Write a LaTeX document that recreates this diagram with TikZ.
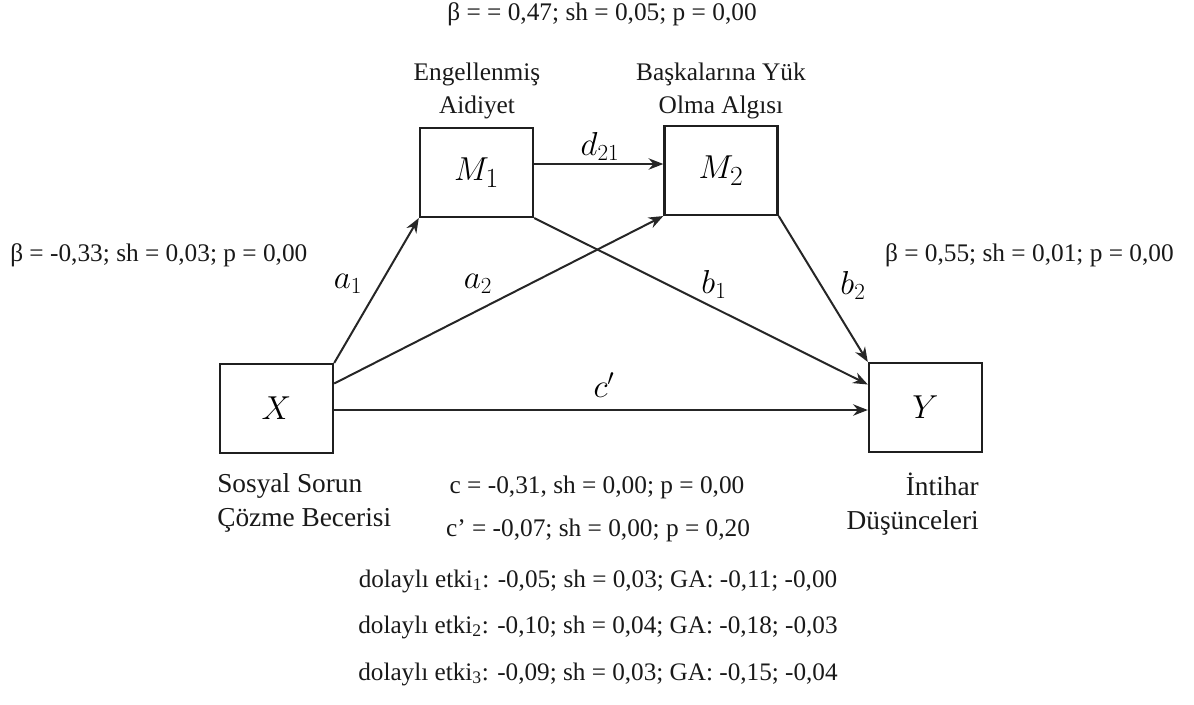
\documentclass[tikz,border=0pt]{standalone}
\usepackage{fontspec}
\setmainfont{Liberation Serif}
\usetikzlibrary{arrows.meta,calc}
\tikzset{
  box/.style={draw=black!88, line width=1.8pt, minimum width=84.75pt, minimum height=66.5pt, inner sep=0pt, font=\fontsize{28.5}{32}\selectfont},
  arr/.style={draw=black!85, line width=1.5pt, -{Stealth[length=11pt,width=8.5pt]}},
  lbl/.style={font=\fontsize{25}{30}\selectfont, inner sep=0pt},
  txt/.style={font=\fontsize{19}{25}\selectfont, inner sep=0pt, text=black!90, align=center},
  big/.style={font=\fontsize{20.5}{26}\selectfont, inner sep=0pt, text=black!90},
  small/.style={font=\fontsize{18.9}{22}\selectfont, inner sep=0pt, text=black!90}
}
\begin{document}
\begin{tikzpicture}[x=0.75pt,y=-0.75pt]
\useasboundingbox (0,0) rectangle (1194,704);
\node[box] (X) at (276.5,408.5) {$X$};
\node[box] (M1) at (476.5,172.5) {$M_1$};
\node[box] (M2) at (721,170.5) {$M_2$};
\node[box] (Y) at (925.5,407.5) {$Y$};

\coordinate (xs2) at ($(X.east)+(0,-25)$);
\coordinate (xs3) at ($(X.east)+(0,1.5)$);
\coordinate (ye3) at (xs3 -| Y.west);
\coordinate (ye1) at ($(Y.west)+(0,-23)$);
\coordinate (m1e) at ($(M1.east)+(0,-8.5)$);
\coordinate (m2w) at (m1e -| M2.west);

\draw[arr] (X.north east) -- (M1.south west);
\draw[arr] (xs2) -- (M2.south west);
\draw[arr] (xs3) -- (ye3);
\draw[arr] (M1.south east) -- (ye1);
\draw[arr] (M2.south east) -- (Y.north west);
\draw[arr] (m1e) -- (m2w);

\node[lbl] (la1) at (348,284) {$a_1$};
\node[lbl] (la2) at (478,284) {$a_2$};
\node[lbl] (ld) at (600,146) {$d_{21}$};
\node[lbl] (lb1) at (714,284) {$b_1$};
\node[lbl] (lb2) at (853,285) {$b_2$};
\node[lbl] (lc) at (604,385) {$c'$};

\node[txt] (t0) at (602,14) {β = = 0,47; sh = 0,05; p = 0,00};
\node[txt] (tm1) at (477,91) {Engellenmiş\\Aidiyet};
\node[txt] (tm2) at (721,91) {Başkalarına Yük\\Olma Algısı};
\node[txt, anchor=west] (ta) at (10,255) {β = -0,33; sh = 0,03; p = 0,00};
\node[txt, anchor=east] (tb) at (1174,255) {β = 0,55; sh = 0,01; p = 0,00};
\node[big, align=left, anchor=west] (tx) at (217,503) {Sosyal Sorun\\Çözme Becerisi};
\node[big, align=right, anchor=east] (ty) at (979,504) {İntihar\\Düşünceleri};
\node[txt] (tc) at (597,487) {c = -0,31, sh = 0,00; p = 0,00};
\node[txt] (tc2) at (598,530) {c’ = -0,07; sh = 0,00; p = 0,20};
\node[small] (d1) at (598,581) {dolaylı etki\textsubscript{1}: -0,05; sh = 0,03; GA: -0,11; -0,00};
\node[small] (d2) at (598,627) {dolaylı etki\textsubscript{2}: -0,10; sh = 0,04; GA: -0,18; -0,03};
\node[small] (d3) at (598,674) {dolaylı etki\textsubscript{3}: -0,09; sh = 0,03; GA: -0,15; -0,04};
\end{tikzpicture}
\end{document}
